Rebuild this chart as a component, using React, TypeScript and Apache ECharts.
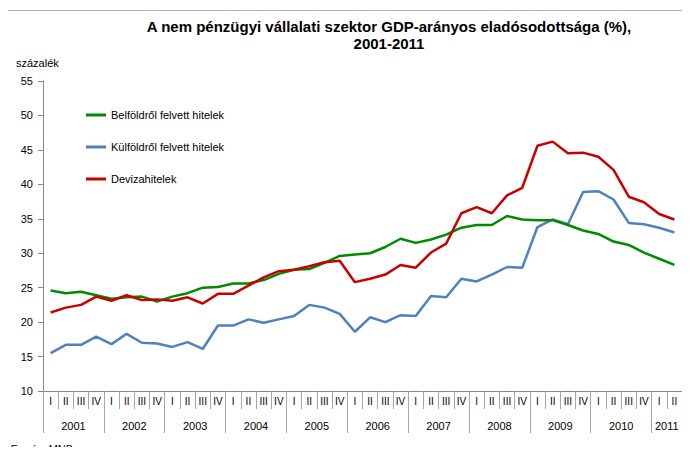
import React, { useEffect, useRef } from "react";
import * as echarts from "echarts";

const years = [2001, 2002, 2003, 2004, 2005, 2006, 2007, 2008, 2009, 2010, 2011];
const quarterNames = ["I", "II", "III", "IV"];
const quarters: string[] = [];
years.forEach((y) => {
  const n = y === 2011 ? 2 : 4;
  for (let q = 0; q < n; q++) quarters.push(quarterNames[q]);
});

const seriesNames = [
  "Belföldről felvett hitelek",
  "Külföldről felvett hitelek",
  "Devizahitelek",
];

const belfoldi = [
  24.6, 24.2, 24.4, 23.9,
  23.4, 23.6, 23.7, 23.0,
  23.7, 24.2, 25.0, 25.1,
  25.6, 25.6, 26.1, 27.0,
  27.6, 27.7, 28.6, 29.6,
  29.8, 30.0, 30.9, 32.1,
  31.5, 32.0, 32.7, 33.7,
  34.1, 34.1, 35.4, 34.9,
  34.8, 34.8, 34.1, 33.3,
  32.8, 31.7, 31.2, 30.1,
  29.2, 28.3,
];

const kulfoldi = [
  15.5, 16.7, 16.7, 17.9,
  16.8, 18.3, 17.0, 16.9,
  16.4, 17.1, 16.1, 19.5,
  19.5, 20.4, 19.9, 20.4,
  20.9, 22.5, 22.1, 21.2,
  18.6, 20.7, 20.0, 21.0,
  20.9, 23.8, 23.6, 26.3,
  25.9, 26.9, 28.0, 27.9,
  33.8, 34.9, 34.2, 38.9,
  39.0, 37.8, 34.4, 34.2,
  33.7, 33.0,
];

const deviza = [
  21.4, 22.1, 22.5, 23.7,
  23.1, 23.9, 23.2, 23.3,
  23.1, 23.6, 22.7, 24.1,
  24.1, 25.3, 26.5, 27.4,
  27.6, 28.1, 28.7, 28.9,
  25.8, 26.3, 26.9, 28.3,
  27.9, 30.1, 31.4, 35.8,
  36.7, 35.8, 38.4, 39.5,
  45.6, 46.2, 44.5, 44.6,
  44.0, 42.1, 38.2, 37.4,
  35.7, 34.9,
];

const yearTickValues = [0, 4, 8, 12, 16, 20, 24, 28, 32, 36, 40, 42];
const yearLabelValues = [2, 6, 10, 14, 18, 22, 26, 30, 34, 38, 41];

const FONT = "'Liberation Sans', Arial, sans-serif";
const AXIS_COLOR = "#868686";
const colors = ["#008a00", "#4f81bd", "#c80000"];

export default function App() {
  const ref = useRef<HTMLDivElement>(null);

  useEffect(() => {
    if (!ref.current) return;
    const chart = echarts.init(ref.current, undefined, { renderer: "svg" });
    const data = [belfoldi, kulfoldi, deviza];
    chart.setOption({
      animation: false,
      backgroundColor: "#ffffff",
      textStyle: { fontFamily: FONT },
      title: {
        text: "A nem pénzügyi vállalati szektor GDP-arányos eladósodottsága (%),\n2001-2011",
        left: 384,
        top: 13,
        textAlign: "center",
        textStyle: {
          fontFamily: FONT,
          fontSize: 15,
          fontWeight: "bold",
          color: "#000000",
          lineHeight: 17,
          align: "center",
        },
      },
      graphic: [
        {
          type: "rect",
          left: 7,
          top: 10,
          shape: { width: 1, height: 445 },
          style: { fill: "#b0b0b0" },
          silent: true,
          z: 50,
        },
        {
          type: "rect",
          left: 7,
          top: 10,
          shape: { width: 683, height: 1 },
          style: { fill: "#b0b0b0" },
          silent: true,
          z: 50,
        },
        {
          type: "text",
          left: 16,
          top: 57,
          style: { text: "százalék", font: `11px ${FONT}`, fill: "#000000" },
        },
        {
          type: "text",
          left: 10,
          top: 443,
          style: { text: "Forrás: MNB", font: `italic 11px ${FONT}`, fill: "#000000" },
        },
      ],
      legend: {
        orient: "vertical",
        left: 86,
        top: 108,
        icon: "rect",
        itemWidth: 20,
        itemHeight: 3,
        itemGap: 18,
        padding: 0,
        data: seriesNames,
        textStyle: { fontFamily: FONT, fontSize: 11, color: "#000000", lineHeight: 14 },
      },
      grid: { left: 43, right: 8, top: 81, bottom: 64, containLabel: false },
      xAxis: [
        {
          type: "category",
          data: quarters,
          boundaryGap: true,
          axisLine: { show: true, lineStyle: { color: AXIS_COLOR, width: 1 } },
          axisTick: {
            show: true,
            interval: 0,
            alignWithLabel: false,
            length: 18,
            lineStyle: { color: "#a6a6a6" },
          },
          axisLabel: {
            interval: 0,
            margin: 5,
            fontFamily: FONT,
            fontSize: 10,
            color: "#000000",
          },
          splitLine: { show: false },
        },
        {
          type: "value",
          min: 0,
          max: 42,
          position: "bottom",
          axisLine: { show: false },
          axisTick: {
            show: true,
            length: 42,
            customValues: yearTickValues,
            lineStyle: { color: "#a6a6a6" },
          },
          axisLabel: {
            show: true,
            margin: 29,
            customValues: yearLabelValues,
            formatter: (v: number) => String(years[Math.floor(v / 4)]),
            fontFamily: FONT,
            fontSize: 11,
            color: "#000000",
          },
          splitLine: { show: false },
        },
      ],
      yAxis: {
        type: "value",
        min: 10,
        max: 55,
        interval: 5,
        axisLine: { show: true, lineStyle: { color: AXIS_COLOR, width: 1 } },
        axisTick: { show: true, length: 5, lineStyle: { color: AXIS_COLOR } },
        axisLabel: { margin: 10, fontFamily: FONT, fontSize: 11, color: "#000000" },
        splitLine: { show: false },
      },
      series: seriesNames.map((name, i) => ({
        name,
        type: "line",
        xAxisIndex: 0,
        data: data[i],
        symbol: "none",
        color: colors[i],
        itemStyle: { color: colors[i] },
        lineStyle: { width: 2.5, color: colors[i] },
        z: i === 2 ? 3 : i === 0 ? 2 : 1,
      })),
    });
    return () => chart.dispose();
  }, []);

  return <div ref={ref} style={{ width: 690, height: 455, margin: -8 }} />;
}
